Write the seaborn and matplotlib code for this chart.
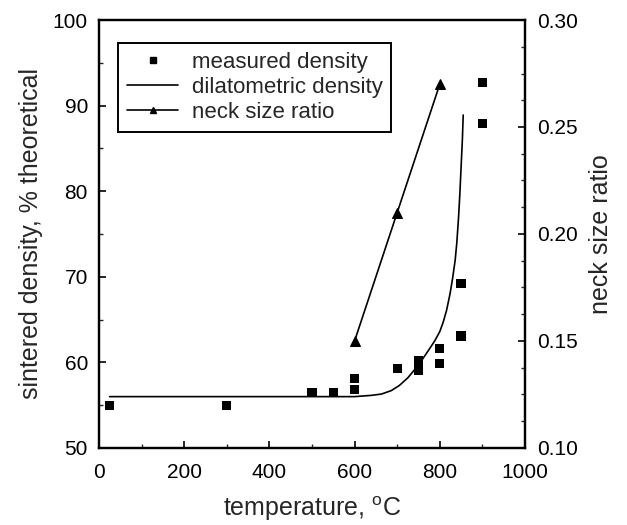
import matplotlib
matplotlib.use("Agg")
import matplotlib.pyplot as plt
import seaborn as sns
import pandas as pd
from matplotlib.ticker import MultipleLocator
from matplotlib.lines import Line2D

# measured density (% theoretical)
meas_temp = [25, 300, 500, 550, 600, 600, 700, 750, 750, 800, 800, 850, 850, 900, 900]
meas_dens = [55.0, 55.0, 56.5, 56.5, 58.1, 56.8, 59.3, 60.2, 59.1, 61.6, 59.9, 69.2, 63.1, 92.7, 87.9]

# dilatometric density (% theoretical)
dil_temp = [25, 300, 500, 600, 640, 663, 686, 705, 725, 740, 757, 772, 788, 800, 808,
            816, 824, 830, 836, 840, 844, 847, 850, 853, 855]
dil_dens = [56.0, 56.0, 56.0, 56.0, 56.15, 56.3, 56.7, 57.3, 58.2, 59.1, 60.2, 61.3, 62.5,
            63.6, 64.7, 66.1, 68.0, 69.8, 71.9, 74.0, 76.9, 79.6, 82.8, 86.0, 88.9]

# neck size ratio
neck_temp = [600, 700, 800]
neck_ratio = [0.15, 0.21, 0.27]

sns.set_theme(style="ticks")
plt.rcParams['font.family'] = ['Liberation Sans', 'DejaVu Sans']
plt.rcParams['mathtext.fontset'] = 'custom'
plt.rcParams['mathtext.rm'] = 'Liberation Sans'

TFS = 15
LFS = 18
GFS = 16
fig = plt.figure(figsize=(6.27, 5.25), dpi=100)
ax = fig.add_axes([0.1579, 0.1467, 0.6794, 0.8152])
ax2 = ax.twinx()

df_m = pd.DataFrame({"t": meas_temp, "d": meas_dens})
df_d = pd.DataFrame({"t": dil_temp, "d": dil_dens})
df_n = pd.DataFrame({"t": neck_temp, "r": neck_ratio})

sns.scatterplot(data=df_m, x="t", y="d", ax=ax, marker="s", s=45, color="black",
                edgecolor="none", linewidth=0, zorder=3)
sns.lineplot(data=df_d, x="t", y="d", ax=ax, color="black", lw=1.2, estimator=None)
sns.lineplot(data=df_n, x="t", y="r", ax=ax2, color="black", lw=1.2, marker="^",
             markersize=7, markeredgecolor="black", estimator=None)

ax.set_xlim(0, 1000)
ax.set_ylim(50, 100)
ax2.set_ylim(0.10, 0.30)

ax.xaxis.set_major_locator(MultipleLocator(200))
ax.xaxis.set_minor_locator(MultipleLocator(100))
ax.yaxis.set_major_locator(MultipleLocator(10))
ax.yaxis.set_minor_locator(MultipleLocator(5))
ax2.set_yticks([0.10, 0.15, 0.20, 0.25, 0.30])
ax2.set_yticklabels(["0.10", "0.15", "0.20", "0.25", "0.30"])
ax2.yaxis.set_minor_locator(MultipleLocator(0.0125))

for a in (ax, ax2):
    for sp in a.spines.values():
        sp.set_linewidth(1.6)
        sp.set_color("black")
        sp.set_visible(True)
    a.tick_params(which="major", direction="in", length=5, width=1.2,
                  labelsize=TFS, colors="black")
    a.tick_params(which="minor", direction="in", length=3, width=1.0)
ax.tick_params(axis="y", which="both", right=False, pad=8)
ax.tick_params(axis="x", which="both", top=False, pad=11)
ax2.tick_params(axis="y", which="both", pad=9)
ax2.tick_params(axis="x", which="both", top=False, bottom=False)

ax.set_xlabel("temperature, $^{\\rm o}$C", fontsize=LFS, labelpad=9)
ax.set_ylabel("sintered density, % theoretical", fontsize=LFS, labelpad=7)
ax2.set_ylabel("neck size ratio", fontsize=LFS, labelpad=8)

handles = [
    Line2D([], [], color="black", marker="s", linestyle="none", markersize=5),
    Line2D([], [], color="black", lw=1.2),
    Line2D([], [], color="black", lw=1.2, marker="^", markersize=5),
]
labels = ["measured density", "dilatometric density", "neck size ratio"]
leg = ax2.legend(handles, labels, loc="upper left", bbox_to_anchor=(0.045, 0.946),
                 fontsize=GFS, frameon=True, fancybox=False, edgecolor="black",
                 framealpha=1, handlelength=2.3, handletextpad=0.6,
                 labelspacing=0.18, borderpad=0.4, borderaxespad=0)
leg.get_frame().set_linewidth(1.4)

fig.savefig("out.png", dpi=100)
